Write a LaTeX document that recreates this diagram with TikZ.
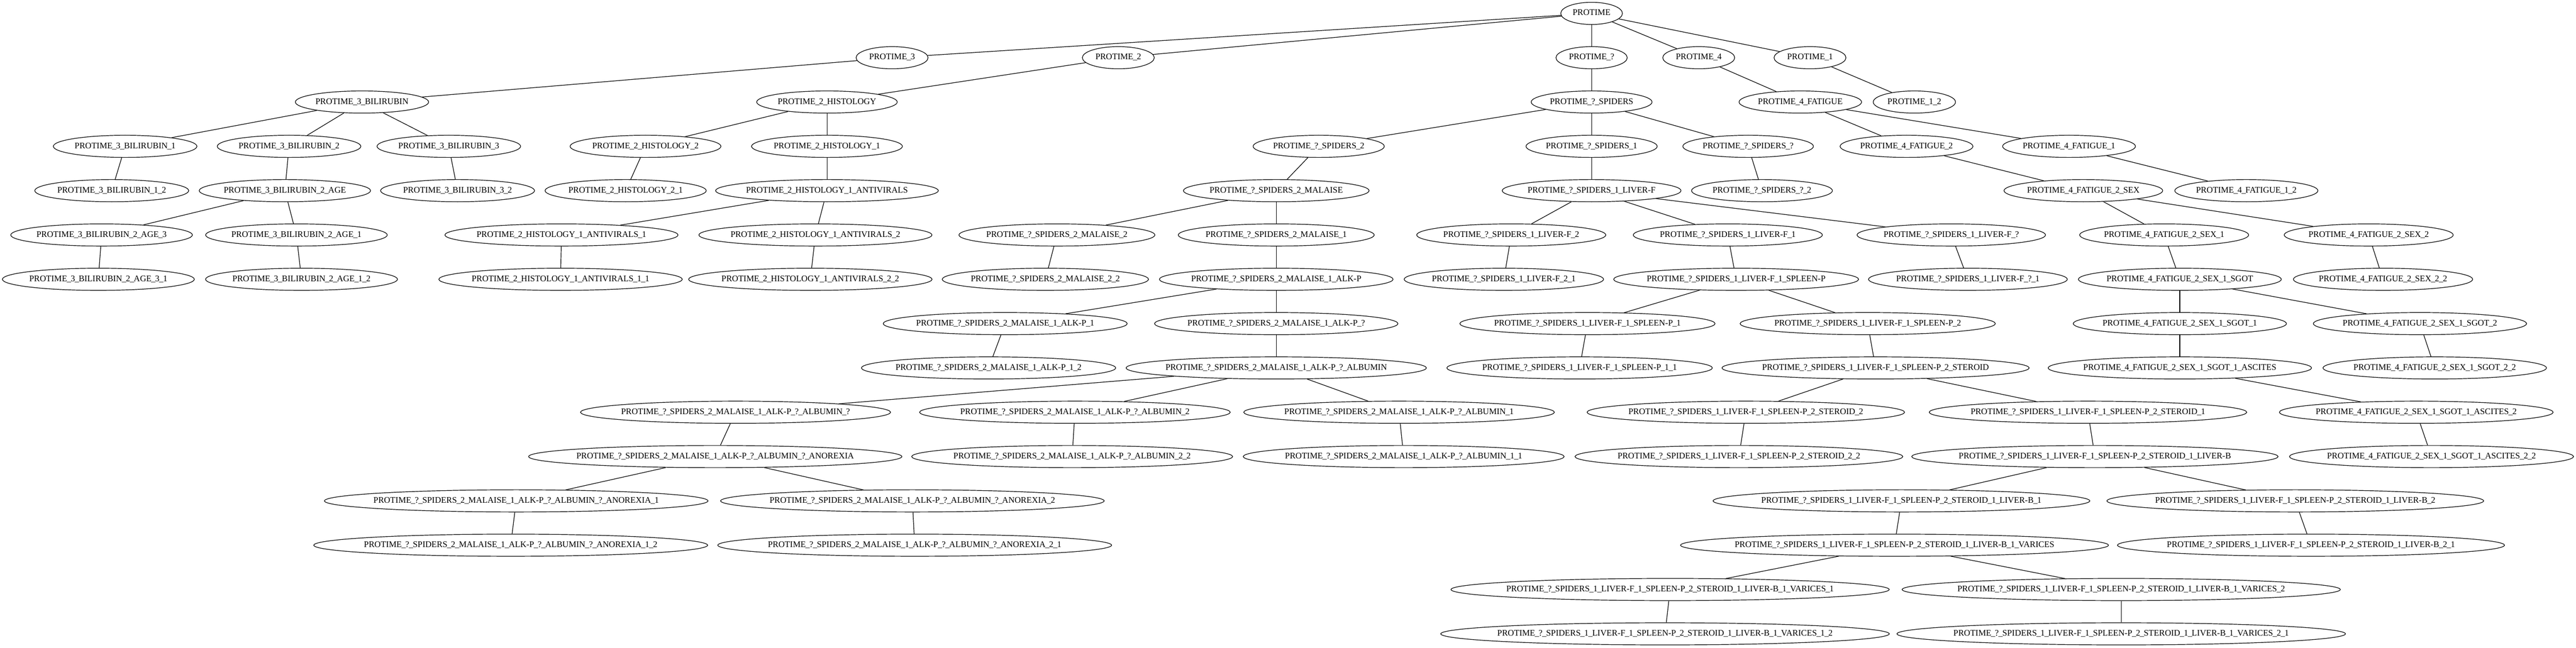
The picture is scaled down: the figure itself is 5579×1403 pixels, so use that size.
\documentclass[tikz,border=0pt]{standalone}
\usepackage{fontspec}
\setmainfont{Liberation Serif}
\usetikzlibrary{shapes.geometric,calc}
\newcommand\gfont{\fontsize{14pt}{16pt}\selectfont}
\let\origus\_
\newcommand\narrowus{\kern-0.04em\origus\kern-0.04em}
\newcommand\pfxM{PROTIME\_?\_SPIDERS\_2\_MALAISE\_1\_ALK-P\_?\_ALBUMIN}
\newcommand\pfxL{PROTIME\_?\_SPIDERS\_1\_LIVER-F\_1\_SPLEEN-P\_2\_STEROID}
\newcommand\pfxF{PROTIME\_4\_FATIGUE\_2\_SEX\_1\_SGOT}
\tikzset{
  gell/.style={draw, ellipse, line width=1pt, minimum height=36pt, inner sep=0pt},
  glab/.style={inner sep=0pt, font={\gfont\let\_\narrowus}, text height=0.66em, text depth=0pt},
  gedge/.style={line width=1pt}
}
\newcommand\gn[4]{%
  \node[glab] (#1-t) at (#2,{29+96*#3}) {#4};
  \path let \p1=($(#1-t.east)-(#1-t.west)$) in
    node[gell, minimum width={1.3*\x1+19.7pt}] (#1) at (#1-t.center) {};
}
\begin{document}
\begin{tikzpicture}[x=0.75pt,y=-0.75pt]
\useasboundingbox (0,0) rectangle (5579,1403);
% level 0
\gn{r}{3447}{0}{PROTIME}
% level 1
\gn{p3}{1932}{1}{PROTIME\_3}
\gn{p2}{2422}{1}{PROTIME\_2}
\gn{pq}{3447}{1}{PROTIME\_?}
\gn{p4}{3679}{1}{PROTIME\_4}
\gn{p1}{3920}{1}{PROTIME\_1}
% level 2
\gn{p3b}{784}{2}{PROTIME\_3\_BILIRUBIN}
\gn{p2h}{1791}{2}{PROTIME\_2\_HISTOLOGY}
\gn{pqs}{3447}{2}{PROTIME\_?\_SPIDERS}
\gn{p4f}{3899}{2}{PROTIME\_4\_FATIGUE}
\gn{p12}{4146}{2}{PROTIME\_1\_2}
% level 3
\gn{p3b1}{271}{3}{PROTIME\_3\_BILIRUBIN\_1}
\gn{p3b2}{626}{3}{PROTIME\_3\_BILIRUBIN\_2}
\gn{p3b3}{972}{3}{PROTIME\_3\_BILIRUBIN\_3}
\gn{p2h2}{1398}{3}{PROTIME\_2\_HISTOLOGY\_2}
\gn{p2h1}{1791}{3}{PROTIME\_2\_HISTOLOGY\_1}
\gn{pqs2}{2856}{3}{PROTIME\_?\_SPIDERS\_2}
\gn{pqs1}{3447}{3}{PROTIME\_?\_SPIDERS\_1}
\gn{pqsq}{3786}{3}{PROTIME\_?\_SPIDERS\_?}
\gn{p4f2}{4129}{3}{PROTIME\_4\_FATIGUE\_2}
\gn{p4f1}{4481}{3}{PROTIME\_4\_FATIGUE\_1}
% level 4
\gn{p3b12}{242}{4}{PROTIME\_3\_BILIRUBIN\_1\_2}
\gn{p3b2a}{617}{4}{PROTIME\_3\_BILIRUBIN\_2\_AGE}
\gn{p3b32}{991}{4}{PROTIME\_3\_BILIRUBIN\_3\_2}
\gn{p2h21}{1355}{4}{PROTIME\_2\_HISTOLOGY\_2\_1}
\gn{p2h1a}{1791}{4}{PROTIME\_2\_HISTOLOGY\_1\_ANTIVIRALS}
\gn{pqs2m}{2764}{4}{PROTIME\_?\_SPIDERS\_2\_MALAISE}
\gn{pqs1l}{3447}{4}{PROTIME\_?\_SPIDERS\_1\_LIVER-F}
\gn{pqsq2}{3816}{4}{PROTIME\_?\_SPIDERS\_?\_2}
\gn{p4f2s}{4512}{4}{PROTIME\_4\_FATIGUE\_2\_SEX}
\gn{p4f12}{4865}{4}{PROTIME\_4\_FATIGUE\_1\_2}
% level 5
\gn{p3b2a3}{220}{5}{PROTIME\_3\_BILIRUBIN\_2\_AGE\_3}
\gn{p3b2a1}{642}{5}{PROTIME\_3\_BILIRUBIN\_2\_AGE\_1}
\gn{p2h1a1}{1216}{5}{PROTIME\_2\_HISTOLOGY\_1\_ANTIVIRALS\_1}
\gn{p2h1a2}{1766}{5}{PROTIME\_2\_HISTOLOGY\_1\_ANTIVIRALS\_2}
\gn{pqs2m2}{2289}{5}{PROTIME\_?\_SPIDERS\_2\_MALAISE\_2}
\gn{pqs2m1}{2764}{5}{PROTIME\_?\_SPIDERS\_2\_MALAISE\_1}
\gn{pqs1l2}{3273}{5}{PROTIME\_?\_SPIDERS\_1\_LIVER-F\_2}
\gn{pqs1l1}{3742}{5}{PROTIME\_?\_SPIDERS\_1\_LIVER-F\_1}
\gn{pqs1lq}{4226}{5}{PROTIME\_?\_SPIDERS\_1\_LIVER-F\_?}
\gn{p4f2s1}{4687}{5}{PROTIME\_4\_FATIGUE\_2\_SEX\_1}
\gn{p4f2s2}{5130}{5}{PROTIME\_4\_FATIGUE\_2\_SEX\_2}
% level 6
\gn{p3b2a31}{213}{6}{PROTIME\_3\_BILIRUBIN\_2\_AGE\_3\_1}
\gn{p3b2a12}{653}{6}{PROTIME\_3\_BILIRUBIN\_2\_AGE\_1\_2}
\gn{p2h1a11}{1214}{6}{PROTIME\_2\_HISTOLOGY\_1\_ANTIVIRALS\_1\_1}
\gn{p2h1a22}{1755}{6}{PROTIME\_2\_HISTOLOGY\_1\_ANTIVIRALS\_2\_2}
\gn{pqs2m22}{2264}{6}{PROTIME\_?\_SPIDERS\_2\_MALAISE\_2\_2}
\gn{pqs2m1a}{2764}{6}{PROTIME\_?\_SPIDERS\_2\_MALAISE\_1\_ALK-P}
\gn{pqs1l21}{3257}{6}{PROTIME\_?\_SPIDERS\_1\_LIVER-F\_2\_1}
\gn{pqs1l1s}{3760}{6}{PROTIME\_?\_SPIDERS\_1\_LIVER-F\_1\_SPLEEN-P}
\gn{pqs1lq1}{4262}{6}{PROTIME\_?\_SPIDERS\_1\_LIVER-F\_?\_1}
\gn{p4f2s1s}{4721}{6}{\pfxF}
\gn{p4f2s22}{5161}{6}{PROTIME\_4\_FATIGUE\_2\_SEX\_2\_2}
% level 7
\gn{pqs2m1a1}{2177}{7}{PROTIME\_?\_SPIDERS\_2\_MALAISE\_1\_ALK-P\_1}
\gn{pqs2m1aq}{2764}{7}{PROTIME\_?\_SPIDERS\_2\_MALAISE\_1\_ALK-P\_?}
\gn{pqs1l1s1}{3438}{7}{PROTIME\_?\_SPIDERS\_1\_LIVER-F\_1\_SPLEEN-P\_1}
\gn{pqs1l1s2}{4045}{7}{PROTIME\_?\_SPIDERS\_1\_LIVER-F\_1\_SPLEEN-P\_2}
\gn{p4f2s1s1}{4721}{7}{\pfxF\_1}
\gn{p4f2s1s2}{5241}{7}{\pfxF\_2}
% level 8
\gn{pqs2m1a12}{2141}{8}{PROTIME\_?\_SPIDERS\_2\_MALAISE\_1\_ALK-P\_1\_2}
\gn{pqs2m1aqa}{2764}{8}{\pfxM}
\gn{pqs1l1s11}{3421}{8}{PROTIME\_?\_SPIDERS\_1\_LIVER-F\_1\_SPLEEN-P\_1\_1}
\gn{pqs1l1s2s}{4062}{8}{\pfxL}
\gn{p4f2s1s1a}{4721}{8}{\pfxF\_1\_ASCITES}
\gn{p4f2s1s22}{5273}{8}{\pfxF\_2\_2}
% level 9
\gn{albq}{1593}{9}{\pfxM\_?}
\gn{alb2}{2328}{9}{\pfxM\_2}
\gn{alb1}{3030}{9}{\pfxM\_1}
\gn{st2}{3781}{9}{\pfxL\_2}
\gn{st1}{4522}{9}{\pfxL\_1}
\gn{asc2}{5233}{9}{\pfxF\_1\_ASCITES\_2}
% level 10
\gn{albqa}{1549}{10}{\pfxM\_?\_ANOREXIA}
\gn{alb22}{2322}{10}{\pfxM\_2\_2}
\gn{alb11}{3040}{10}{\pfxM\_1\_1}
\gn{st22}{3766}{10}{\pfxL\_2\_2}
\gn{st1l}{4537}{10}{\pfxL\_1\_LIVER-B}
\gn{asc22}{5266}{10}{\pfxF\_1\_ASCITES\_2\_2}
% level 11
\gn{an1}{1118}{11}{\pfxM\_?\_ANOREXIA\_1}
\gn{an2}{1976}{11}{\pfxM\_?\_ANOREXIA\_2}
\gn{lb1}{4118}{11}{\pfxL\_1\_LIVER-B\_1}
\gn{lb2}{4971}{11}{\pfxL\_1\_LIVER-B\_2}
% level 12
\gn{an12}{1106}{12}{\pfxM\_?\_ANOREXIA\_1\_2}
\gn{an21}{1981}{12}{\pfxM\_?\_ANOREXIA\_2\_1}
\gn{lb1v}{4103}{12}{\pfxL\_1\_LIVER-B\_1\_VARICES}
\gn{lb21}{5005}{12}{\pfxL\_1\_LIVER-B\_2\_1}
% level 13
\gn{v1}{3617}{13}{\pfxL\_1\_LIVER-B\_1\_VARICES\_1}
\gn{v2}{4594}{13}{\pfxL\_1\_LIVER-B\_1\_VARICES\_2}
% level 14
\gn{v12}{3606}{14}{\pfxL\_1\_LIVER-B\_1\_VARICES\_1\_2}
\gn{v21}{4594}{14}{\pfxL\_1\_LIVER-B\_1\_VARICES\_2\_1}
% edges
\foreach \a/\b in {r/p3, r/p2, r/pq, r/p4, r/p1,
  p3/p3b, p2/p2h, pq/pqs, p4/p4f, p1/p12,
  p3b/p3b1, p3b/p3b2, p3b/p3b3, p2h/p2h2, p2h/p2h1,
  pqs/pqs2, pqs/pqs1, pqs/pqsq, p4f/p4f2, p4f/p4f1,
  p3b1/p3b12, p3b2/p3b2a, p3b3/p3b32, p2h2/p2h21, p2h1/p2h1a,
  pqs2/pqs2m, pqs1/pqs1l, pqsq/pqsq2, p4f2/p4f2s, p4f1/p4f12,
  p3b2a/p3b2a3, p3b2a/p3b2a1, p2h1a/p2h1a1, p2h1a/p2h1a2,
  pqs2m/pqs2m2, pqs2m/pqs2m1, pqs1l/pqs1l2, pqs1l/pqs1l1, pqs1l/pqs1lq,
  p4f2s/p4f2s1, p4f2s/p4f2s2,
  p3b2a3/p3b2a31, p3b2a1/p3b2a12, p2h1a1/p2h1a11, p2h1a2/p2h1a22,
  pqs2m2/pqs2m22, pqs2m1/pqs2m1a, pqs1l2/pqs1l21, pqs1l1/pqs1l1s, pqs1lq/pqs1lq1,
  p4f2s1/p4f2s1s, p4f2s2/p4f2s22,
  pqs2m1a/pqs2m1a1, pqs2m1a/pqs2m1aq, pqs1l1s/pqs1l1s1, pqs1l1s/pqs1l1s2,
  p4f2s1s/p4f2s1s1, p4f2s1s/p4f2s1s2,
  pqs2m1a1/pqs2m1a12, pqs2m1aq/pqs2m1aqa, pqs1l1s1/pqs1l1s11, pqs1l1s2/pqs1l1s2s,
  p4f2s1s1/p4f2s1s1a, p4f2s1s2/p4f2s1s22,
  pqs2m1aqa/albq, pqs2m1aqa/alb2, pqs2m1aqa/alb1, pqs1l1s2s/st2, pqs1l1s2s/st1,
  p4f2s1s1a/asc2,
  albq/albqa, alb2/alb22, alb1/alb11, st2/st22, st1/st1l, asc2/asc22,
  albqa/an1, albqa/an2, st1l/lb1, st1l/lb2,
  an1/an12, an2/an21, lb1/lb1v, lb2/lb21,
  lb1v/v1, lb1v/v2, v1/v12, v2/v21}
  \draw[gedge] (\a) -- (\b);
\end{tikzpicture}
\end{document}
